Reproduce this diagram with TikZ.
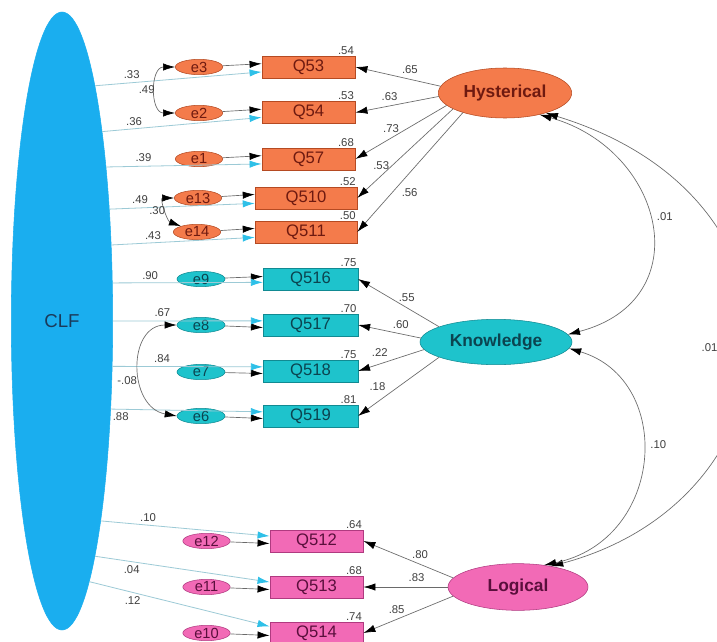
\documentclass[tikz,border=0pt]{standalone}
\usepackage{fontspec}
\setmainfont{Liberation Sans}
\usepackage{tikz}
\usetikzlibrary{positioning,shapes.geometric,arrows.meta}
\definecolor{hystfill}{HTML}{F47B4B}
\definecolor{hystdraw}{HTML}{B54A22}
\definecolor{hysttext}{HTML}{6E1A10}
\definecolor{knowfill}{HTML}{1EC3CC}
\definecolor{knowdraw}{HTML}{118A92}
\definecolor{knowtext}{HTML}{0B4450}
\definecolor{logicfill}{HTML}{F26AB6}
\definecolor{logicdraw}{HTML}{B03A80}
\definecolor{logictext}{HTML}{5A0F3C}
\definecolor{clffill}{HTML}{1AAEEF}
\definecolor{clftext}{HTML}{1A3A5A}
\definecolor{clfline}{HTML}{9CCAD6}
\definecolor{clfhead}{HTML}{2EC0E8}
\definecolor{linegray}{HTML}{6A6A6A}
\definecolor{numgray}{HTML}{404040}

\begin{document}
\begin{tikzpicture}[
    x=0.75pt, y=-0.75pt,
    every node/.style={font=\fontsize{8.5}{10}\selectfont},
    obs/.style={draw, rectangle, minimum width=70pt, minimum height=16.5pt, inner sep=0pt,
                font=\fontsize{12.5}{14}\selectfont},
    err/.style={draw, ellipse, minimum width=35.5pt, minimum height=11.5pt, inner sep=0pt,
                font=\fontsize{11}{12}\selectfont},
    lat/.style={draw, ellipse, inner sep=0pt, font=\fontsize{13}{15}\selectfont\bfseries},
    lbl/.style={inner sep=1pt, text=numgray},
    arr/.style={-{Latex[length=9pt,width=5.5pt,color=black]}, draw=linegray, line width=0.5pt},
    clfarr/.style={-{Latex[length=9pt,width=5.5pt,color=clfhead]}, draw=clfline, line width=0.6pt},
    cov/.style={{Latex[length=9pt,width=5.5pt,color=black]}-{Latex[length=9pt,width=5.5pt,color=black]},
                draw=linegray, line width=0.5pt},
]
    \path[use as bounding box, fill=white] (0,0) rectangle (717,642);

    % common method factor
    \node[lat, fill=clffill, draw=clffill, minimum width=76pt, minimum height=463.5pt,
          font=\fontsize{14}{16}\selectfont, text=clftext] (clf) at (62,321) {CLF};

    % latent factors
    \node[lat, fill=hystfill, draw=hystdraw, text=hysttext, minimum width=100pt, minimum height=37.5pt] (hyst) at (505,93) {Hysterical};
    \node[lat, fill=knowfill, draw=knowdraw, text=knowtext, minimum width=114pt, minimum height=34pt] (know) at (496,342) {Knowledge};
    \node[lat, fill=logicfill, draw=logicdraw, text=logictext, minimum width=105pt, minimum height=35pt] (logic) at (518,587) {Logical};

    % hysterical items
    \node[obs, fill=hystfill, draw=hystdraw, text=hysttext] (q53) at (308.5,67) {Q53};
    \node[obs, fill=hystfill, draw=hystdraw, text=hysttext] (q54) at (308.5,112.5) {Q54};
    \node[obs, fill=hystfill, draw=hystdraw, text=hysttext] (q57) at (308.5,159) {Q57};
    \node[obs, fill=hystfill, draw=hystdraw, text=hysttext, minimum width=76.5pt] (q510) at (306,198) {Q510};
    \node[obs, fill=hystfill, draw=hystdraw, text=hysttext, minimum width=76.5pt] (q511) at (306,232) {Q511};
    \node[err, fill=hystfill, draw=hystdraw, text=hysttext] (e3) at (199,67) {e3};
    \node[err, fill=hystfill, draw=hystdraw, text=hysttext] (e2) at (199,113) {e2};
    \node[err, fill=hystfill, draw=hystdraw, text=hysttext] (e1) at (199,159) {e1};
    \node[err, fill=hystfill, draw=hystdraw, text=hysttext] (e13) at (198,198) {e13};
    \node[err, fill=hystfill, draw=hystdraw, text=hysttext] (e14) at (197,232) {e14};

    % knowledge items
    \node[obs, fill=knowfill, draw=knowdraw, text=knowtext, minimum width=71pt] (q516) at (310.5,279) {Q516};
    \node[obs, fill=knowfill, draw=knowdraw, text=knowtext, minimum width=71pt] (q517) at (310.5,325) {Q517};
    \node[obs, fill=knowfill, draw=knowdraw, text=knowtext, minimum width=71pt] (q518) at (310.5,371) {Q518};
    \node[obs, fill=knowfill, draw=knowdraw, text=knowtext, minimum width=71pt] (q519) at (310.5,416) {Q519};
    \node[err, fill=knowfill, draw=knowdraw, text=knowtext, minimum width=36pt] (e9) at (201,279) {e9};
    \node[err, fill=knowfill, draw=knowdraw, text=knowtext, minimum width=36pt] (e8) at (201,325) {e8};
    \node[err, fill=knowfill, draw=knowdraw, text=knowtext, minimum width=36pt] (e7) at (201,372) {e7};
    \node[err, fill=knowfill, draw=knowdraw, text=knowtext, minimum width=36pt] (e6) at (201,416) {e6};

    % logical items
    \node[obs, fill=logicfill, draw=logicdraw, text=logictext] (q512) at (316.5,541) {Q512};
    \node[obs, fill=logicfill, draw=logicdraw, text=logictext] (q513) at (316.5,587) {Q513};
    \node[obs, fill=logicfill, draw=logicdraw, text=logictext] (q514) at (316.5,633) {Q514};
    \node[err, fill=logicfill, draw=logicdraw, text=logictext] (e12) at (206.5,541) {e12};
    \node[err, fill=logicfill, draw=logicdraw, text=logictext] (e11) at (206.5,587) {e11};
    \node[err, fill=logicfill, draw=logicdraw, text=logictext] (e10) at (206.5,633) {e10};

    % squared multiple correlations
    \node[lbl, anchor=south east] (r53) at (q53.north east) {.54};
    \node[lbl, anchor=south east] (r54) at (q54.north east) {.53};
    \node[lbl, anchor=south east] (r57) at (q57.north east) {.68};
    \node[lbl, anchor=south east] (r510) at (q510.north east) {.52};
    \node[lbl, anchor=south east] (r511) at (q511.north east) {.50};
    \node[lbl, anchor=south east] (r516) at (q516.north east) {.75};
    \node[lbl, anchor=south east] (r517) at (q517.north east) {.70};
    \node[lbl, anchor=south east] (r518) at (q518.north east) {.75};
    \node[lbl, anchor=south east] (r519) at (q519.north east) {.81};
    \node[lbl, anchor=south east] (r512) at (q512.north east) {.64};
    \node[lbl, anchor=south east] (r513) at (q513.north east) {.68};
    \node[lbl, anchor=south east] (r514) at (q514.north east) {.74};

    % errors
    \draw[arr] (e3) -- (q53.176);
    \draw[arr] (e2) -- (q54.176);
    \draw[arr] (e1) -- (q57.176);
    \draw[arr] (e13) -- (q510.176);
    \draw[arr] (e14) -- (q511.176);
    \draw[arr] (e9) -- (q516.177);
    \draw[arr] (e8) -- (q517.183);
    \draw[arr] (e7) -- (q518.183);
    \draw[arr] (e6) -- (q519.183);
    \draw[arr] (e12) -- (q512.183);
    \draw[arr] (e11) -- (q513.183);
    \draw[arr] (e10) -- (q514.183);

    % CLF paths
    \draw[clfarr] (clf.82) -- (q53.186) node[lbl, pos=.22, above=2pt] {.33};
    \draw[clfarr] (clf.78.7) -- (q54.186) node[lbl, pos=.2, above=1pt] {.36};
    \draw[clfarr] (clf.74.2) -- (q57.186) node[lbl, pos=.24, above=2pt] {.39};
    \draw[clfarr] (clf.67.6) -- (q510.186) node[lbl, pos=.21, above=2pt] {.49};
    \draw[clfarr] (clf.57.1) -- (q511.186) node[lbl, pos=.29, above=1pt] {.43};
    \draw[clfarr] (clf.37.5) -- (q516.184) node[lbl, pos=.25, above=1pt] {.90};
    \draw[clfarr] (clf.0) -- (q517.175) node[lbl, pos=.33, above=2pt] {.67};
    \draw[clfarr] (clf.-42.3) -- (q518.175) node[lbl, pos=.33, above=2pt] {.84};
    \draw[clfarr] (clf.-61.7) -- (q519.175) node[lbl, pos=.065, below=1pt] {.88};
    \draw[clfarr] (clf.-79.1) -- (q512.174) node[lbl, pos=.28, above=1pt] {.10};
    \draw[clfarr] (clf.-82.4) -- (q513.174) node[lbl, pos=.21, below=2pt] {.04};
    \draw[clfarr] (clf.-84.8) -- (q514.172) node[lbl, pos=.24, below=2pt] {.12};

    % loadings
    \draw[arr] (hyst.174) -- (q53.east) node[lbl, pos=.36, above=3pt] {.65};
    \draw[arr] (hyst.183) -- (q54.east) node[lbl, pos=.59, above=3pt] {.63};
    \draw[arr] (hyst.192) -- (q57.east) node[lbl, pos=.61, above=3pt] {.73};
    \draw[arr] (hyst.197) -- (q510.east) node[lbl, pos=.75, above=3pt] {.53};
    \draw[arr] (hyst.205) -- (q511.east) node[lbl, pos=.67, right=6pt] {.56};
    \draw[arr] (know.165) -- (q516.east) node[lbl, pos=.4, above=3pt] {.55};
    \draw[arr] (know.177) -- (q517.east) node[lbl, pos=.32, above=3pt] {.60};
    \draw[arr] (know.186) -- (q518.east) node[lbl, pos=.67, above=4pt] {.22};
    \draw[arr] (know.195) -- (q519.east) node[lbl, pos=.62, above left=2pt] {.18};
    \draw[arr] (logic.172) -- (q512.east) node[lbl, pos=.37, above=3pt] {.80};
    \draw[arr] (logic.180) -- (q513.east) node[lbl, pos=.37, above=3pt] {.83};
    \draw[arr] (logic.188) -- (q514.east) node[lbl, pos=.63, above=3pt] {.85};

    % covariances
    \draw[cov] (e3.west) to[out=180, in=180, looseness=1.4] node[lbl, left] {.49} (e2.west);
    \draw[cov] (e13.west) to[out=180, in=160, looseness=1.3] node[lbl, left] {.30} (e14.160);
    \draw[cov] (e8.west) to[out=180, in=170, looseness=1.4] node[lbl, pos=.6, left=2pt] {-.08} (e6.west);
    \draw[cov] (hyst.-32) .. controls (665,150) and (700,300) .. (know.6) node[lbl, pos=.47, right=5pt] {.01};
    \draw[cov] (hyst.-26) .. controls (830,200) and (800,500) .. (logic.32) node[lbl, pos=.5, left=22pt] {.01};
    \draw[cov] (know.-5) .. controls (675,380) and (665,540) .. (logic.40) node[lbl, pos=.45, right=5pt] {.10};
\end{tikzpicture}
\end{document}
